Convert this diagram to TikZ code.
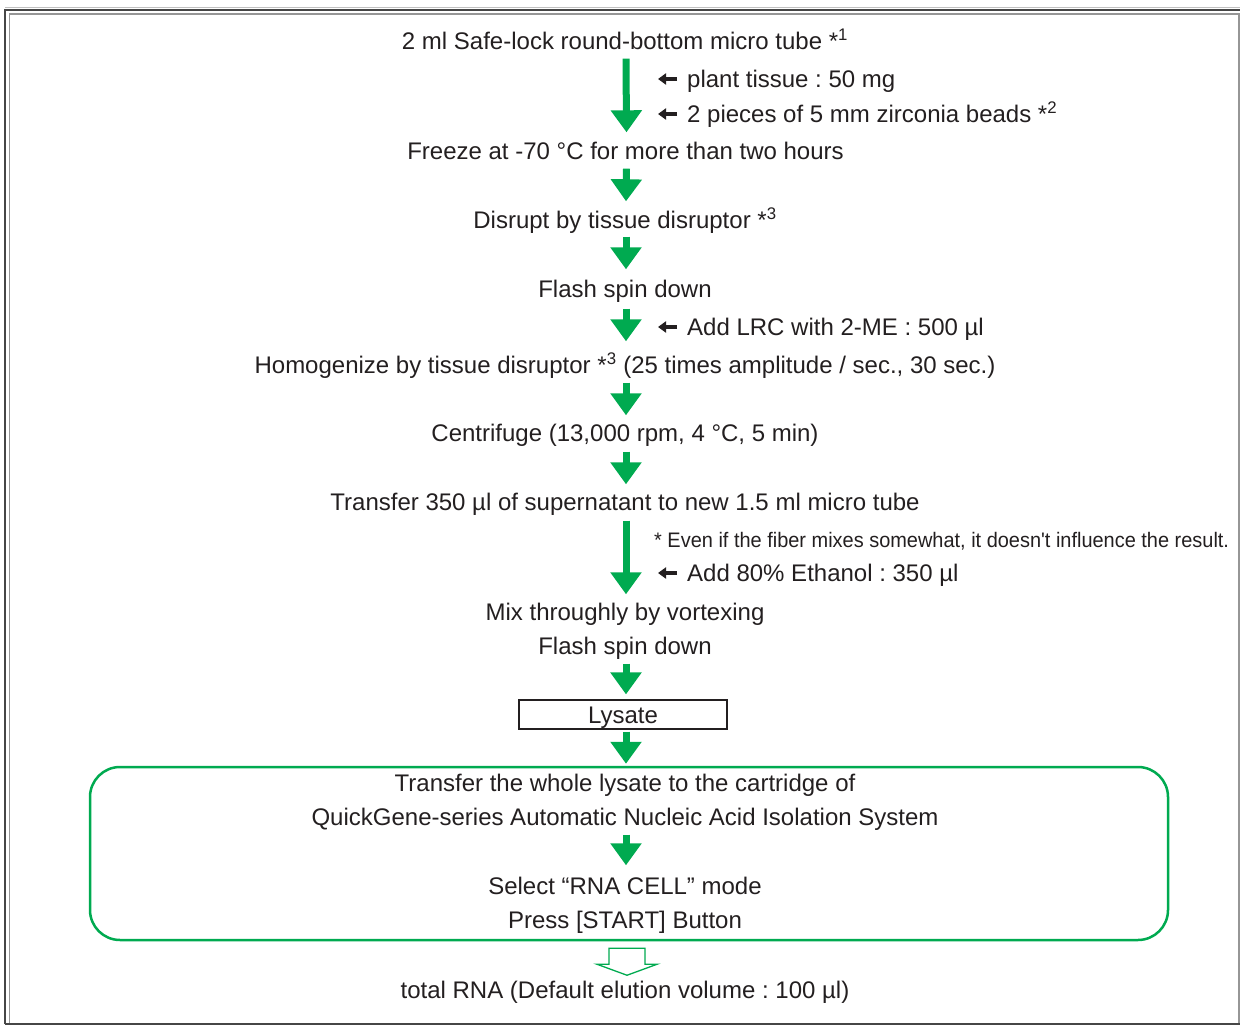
\documentclass[tikz,border=0pt]{standalone}
\usepackage{fontspec}
\setmainfont{Liberation Sans}
\newfontfamily\narrowfont[FakeStretch=0.95]{Liberation Sans}
\usetikzlibrary{arrows.meta,calc}
\definecolor{qgreen}{RGB}{0,170,80}
\definecolor{txt}{RGB}{35,31,32}
\definecolor{framedark}{RGB}{70,70,70}
\definecolor{framegray}{RGB}{150,150,150}
\newcommand{\astsup}[1]{ {*}\textsuperscript{#1}}
\frenchspacing
\begin{document}
\begin{tikzpicture}[x=1pt,y=-1pt,
  every node/.style={inner sep=0pt, text=txt},
  txtnode/.style={font=\fontsize{24}{28}\selectfont, text height=17pt, text depth=0pt, anchor=center},
  sidelabel/.style={txtnode, anchor=west},
  flow/.style={draw=qgreen, line width=7pt, -{Triangle[width=30pt,length=22pt]}},
  sidearrow/.style={draw=txt, line width=4pt, -{Triangle[width=11pt,length=8pt]}},
  framebox/.style={draw=qgreen, line width=2.5pt, rounded corners=30pt}
]
\useasboundingbox (0,0) rectangle (1240,1025);
% frame
\draw[line width=1pt, draw=framegray!60] (5,7.5) -- (1240,7.5);
\draw[line width=1.3pt, draw=framedark] (5,1024) -- (5,10) -- (1241,10);
\draw[line width=1.3pt, draw=framedark] (5,1024) -- (1241,1024);
\draw[line width=1.5pt, draw=framegray] (9.5,1023) -- (9.5,14) -- (1241,14);
\draw[line width=1.5pt, draw=framegray] (1239,14) -- (1239,1023);

% main steps
\node[txtnode] (t1) at (625,41) {2 ml Safe-lock round-bottom micro tube\astsup{1}};
\node[txtnode] (t2) at (625.5,151) {Freeze at -70 °C for more than two hours};
\node[txtnode] (t3) at (625,220) {Disrupt by tissue disruptor\astsup{3}};
\node[txtnode] (t4) at (625,289) {Flash spin down};
\node[txtnode] (t5) at (625,365) {Homogenize by tissue disruptor\astsup{3} (25 times amplitude / sec., 30 sec.)};
\node[txtnode] (t6) at (625,433) {Centrifuge (13,000 rpm, 4 °C, 5 min)};
\node[txtnode] (t7) at (625,502) {Transfer 350 µl of supernatant to new 1.5 ml micro tube};
\node[txtnode] (t8) at (625,612) {Mix throughly by vortexing};
\node[txtnode] (t9) at (625,646) {Flash spin down};
\node[txtnode, draw=txt, line width=1.2pt, minimum width=208pt, minimum height=29pt, text height=17pt] (lys) at (623,714.5) {Lysate};
\node[framebox, minimum width=1078pt, minimum height=173pt] (box) at (629,853.5) {};
\node[txtnode] (t10) at (625,783) {Transfer the whole lysate to the cartridge of};
\node[txtnode] (t11) at (625,817) {QuickGene-series Automatic Nucleic Acid Isolation System};
\node[txtnode] (t12) at (625,886) {Select “RNA CELL” mode};
\node[txtnode] (t13) at (625,920) {Press [START] Button};
\node[txtnode] (t14) at (625,990) {total RNA (Default elution volume : 100 µl)};

% side labels
\node[sidelabel] (l1) at (687,79) {plant tissue : 50 mg};
\node[sidelabel] (l2) at (687,114) {2 pieces of 5 mm zirconia beads\astsup{2}};
\node[sidelabel] (l3) at (687,327) {Add LRC with 2-ME : 500 µl};
\node[anchor=west, font=\narrowfont\fontsize{21}{24}\selectfont, text height=15pt, text depth=0pt] (note) at (654,540) {* Even if the fiber mixes somewhat, it doesn't influence the result.};
\node[sidelabel] (l4) at (687,573) {Add 80\% Ethanol : 350 µl};

\foreach \l in {l1,l2,l3,l4}
  \draw[sidearrow] ($(\l.west)+(-10,0)$) -- ($(\l.west)+(-29,0)$);

% flow arrows
\draw[flow] ($(t1.south)+(1,9)$) -- ($(t2.north)+(1,-10)$);
\draw[flow] ($(t2.south)+(1,9)$) -- ($(t3.north)+(1,-10)$);
\draw[flow] ($(t3.south)+(1,8)$) -- ($(t4.north)+(1,-11)$);
\draw[flow] ($(t4.south)+(1,11)$) -- ($(t5.north)+(1,-15)$);
\draw[flow] ($(t5.south)+(1,9)$) -- ($(t6.north)+(1,-9)$);
\draw[flow] ($(t6.south)+(1,10)$) -- ($(t7.north)+(1,-9)$);
\draw[flow] ($(t7.south)+(1,10)$) -- ($(t8.north)+(1,-9)$);
\draw[flow] ($(t9.south)+(1,9)$) -- ($(lys.north)+(3,-5)$);
\draw[flow] ($(lys.south)+(3,2)$) -- ($(box.north)+(-3,-2)$);
\draw[flow] ($(t11.south)+(1,9)$) -- ($(t12.north)+(1,-12)$);

% hollow output arrow
\coordinate (h) at ($(box.south)+(-2,7)$);
\draw[draw=qgreen, line width=1.3pt, fill=white, line join=miter]
  ($(h)+(-18,0)$) -- ($(h)+(18,0)$) -- ($(h)+(18,16)$) -- ($(h)+(30,16)$) --
  ($(h)+(0,27)$) -- ($(h)+(-30,16)$) -- ($(h)+(-18,16)$) -- cycle;
\end{tikzpicture}
\end{document}
